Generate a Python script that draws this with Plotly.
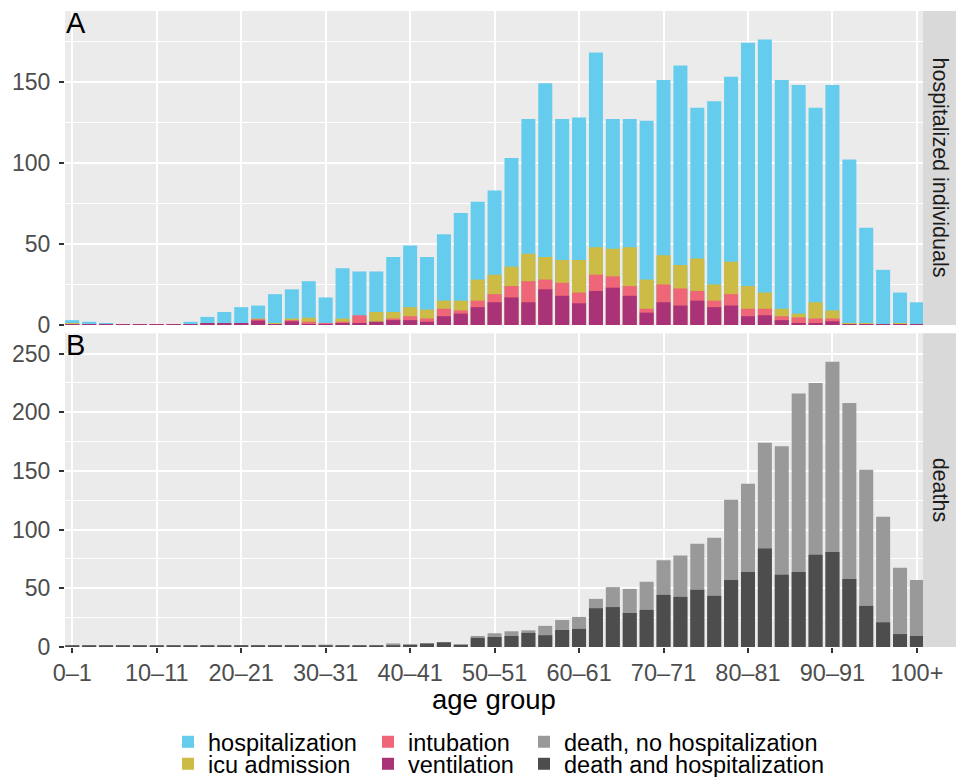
import plotly.graph_objects as go
from plotly.subplots import make_subplots

age_groups = ["0–1", "2–3", "4–5", "6–7", "8–9", "10–11", "12–13", "14–15", "16–17", "18–19",
              "20–21", "22–23", "24–25", "26–27", "28–29", "30–31", "32–33", "34–35", "36–37", "38–39",
              "40–41", "42–43", "44–45", "46–47", "48–49", "50–51", "52–53", "54–55", "56–57", "58–59",
              "60–61", "62–63", "64–65", "66–67", "68–69", "70–71", "72–73", "74–75", "76–77", "78–79",
              "80–81", "82–83", "84–85", "86–87", "88–89", "90–91", "92–93", "94–95", "96–97", "98–99",
              "100+"]
tick_groups = ["0–1", "10–11", "20–21", "30–31", "40–41", "50–51", "60–61", "70–71", "80–81", "90–91", "100+"]

# panel A: hospitalized individuals (bars overlaid, not stacked)
hospitalization = [3, 2, 1, 0.6, 0.6, 0.6, 0.6, 2, 5, 8,
                   11, 12, 19, 22, 27, 17, 35, 33, 33, 42,
                   49, 42, 56, 69, 76, 83, 103, 127, 149, 127,
                   128, 168, 127, 127, 126, 151, 160, 134, 138, 153,
                   174, 176, 151, 148, 134, 148, 102, 60, 34, 20,
                   14]
icu_admission = [1, 0.6, 0.6, 0.6, 0.6, 0.6, 0.6, 0.6, 1, 1,
                 1, 4, 1, 4, 4.5, 0.8, 4, 5, 8, 8,
                 11, 9.5, 15, 15, 28, 31, 36, 44, 42, 40,
                 40, 48, 47, 48, 28, 43, 37, 41, 25, 39,
                 24, 20, 10, 7, 14, 9, 1, 1.2, 0.6, 1.2,
                 0.6]
intubation = [0.6, 0.6, 0.6, 0.6, 0.6, 0.6, 0.6, 0.6, 1, 1,
              1, 3.5, 0.6, 3, 2, 0.8, 2, 6, 2, 4,
              5.4, 4, 10, 9, 15, 19, 24, 27, 28, 26,
              20, 31, 30, 24, 10, 25, 22.5, 21, 15, 19,
              10, 10, 5.4, 4.7, 4, 4, 0.6, 0.6, 0.6, 0.6,
              0.6]
ventilation = [0.6, 0.6, 0.6, 0.6, 0.6, 0.6, 0.6, 0.6, 1, 1,
               1, 2.7, 0.6, 2.3, 0.6, 0.6, 1, 1, 2, 3,
               3, 2, 5.4, 7, 11, 14, 17, 14, 22, 18,
               13.4, 21, 23, 18, 7.6, 14, 12, 15, 11, 12,
               5.4, 6, 3, 1, 1, 2.3, 0.6, 0.6, 0.6, 0.6,
               0.6]

# panel B: deaths (grey bar = all deaths, dark bar = deaths after hospitalization)
deaths_all = [0.8, 0.8, 0.8, 0.8, 0.8, 0.8, 0.8, 0.8, 0.8, 0.8,
              1.5, 1.5, 1.5, 1.5, 0.8, 2, 1, 0.8, 1, 3,
              2, 3, 4, 2, 9.4, 11.7, 13.4, 14.2, 18, 23,
              25.6, 41, 51, 49.5, 55.5, 74, 78, 88, 93, 125.5,
              139, 174, 171, 216, 225, 243, 208, 151, 111, 67.5,
              57]
deaths_hospitalized = [0.8, 0.8, 0.8, 0.8, 0.8, 0.8, 0.8, 0.8, 0.8, 0.8,
                       1.5, 1.5, 1.5, 1.5, 0.8, 1, 1, 0.8, 1, 1.5,
                       2, 3, 4, 2, 7.7, 8.5, 9.4, 12, 10, 14.5,
                       15.4, 33, 34, 29, 31.6, 44.4, 42.7, 48.7, 43.6, 57,
                       64, 84, 61.5, 64, 78.6, 81, 58, 35, 21, 11,
                       9.4]

font = "Liberation Sans, Arial, sans-serif"
W, H = 956, 777
ml, mr, mt, mb = 65, 33, 11, 130
pw, ph = W - ml - mr, H - mt - mb

def px_x(x):
    return (x - ml) / pw

def px_y(y):
    return (H - mb - y) / ph

top_dom = [px_y(325), 1]
bot_dom = [0, px_y(333.3)]

fig = make_subplots(rows=2, cols=1, shared_xaxes=True, vertical_spacing=0.013)

top_series = [
    ("hospitalization", hospitalization, "#66CCEE", "legend"),
    ("icu admission", icu_admission, "#CCBB44", "legend2"),
    ("intubation", intubation, "#EE6677", "legend3"),
    ("ventilation", ventilation, "#AA3377", "legend4"),
]
for name, vals, colour, leg in top_series:
    fig.add_trace(go.Bar(x=age_groups, y=vals, name=name, marker_color=colour,
                         marker_line_width=0, width=0.83, legend=leg, showlegend=True), row=1, col=1)

bottom_series = [
    ("death, no hospitalization", deaths_all, "#999999", "legend5"),
    ("death and hospitalization", deaths_hospitalized, "#4D4D4D", "legend6"),
]
for name, vals, colour, leg in bottom_series:
    fig.add_trace(go.Bar(x=age_groups, y=vals, name=name, marker_color=colour,
                         marker_line_width=0, width=0.83, legend=leg, showlegend=True), row=2, col=1)

# one small legend per entry so the 3 x 2 grid lines up like the original
leg_pos = {
    "legend": (168, 742), "legend2": (168, 764),
    "legend3": (368, 742), "legend4": (368, 764),
    "legend5": (524, 742), "legend6": (524, 764),
}
for key, (lx, ly) in leg_pos.items():
    fig.update_layout({key: dict(x=px_x(lx), y=px_y(ly), xanchor="left", yanchor="middle",
                                 bgcolor="rgba(0,0,0,0)", borderwidth=0, visible=True,
                                 font=dict(family=font, size=23.5, color="black"))})

fig.update_xaxes(range=[-0.43, 50.36], tickmode="array", tickvals=tick_groups,
                 showgrid=True, gridcolor="white", gridwidth=2.2, zeroline=False, showline=False)
fig.update_xaxes(showticklabels=False, ticks="", row=1, col=1)
fig.update_xaxes(ticks="outside", ticklen=5, tickwidth=2, tickcolor="#333333",
                 tickfont=dict(family=font, size=23.5, color="#4D4D4D"), row=2, col=1)

yaxis_style = dict(dtick=50, ticks="outside", ticklen=5, tickwidth=2, tickcolor="#333333",
                   tickfont=dict(family=font, size=23, color="#4D4D4D"), ticklabelstandoff=4,
                   showgrid=True, gridcolor="white", gridwidth=2.2, zeroline=False, showline=False,
                   minor=dict(dtick=25, showgrid=True, gridcolor="white", gridwidth=1.1, ticks=""))
fig.update_yaxes(range=[0, max(hospitalization) * 1.1], domain=top_dom, row=1, col=1, **yaxis_style)
fig.update_yaxes(range=[0, max(deaths_all) * 1.1], domain=bot_dom, row=2, col=1, **yaxis_style)

strip_x1 = 1 + mr / pw
shapes = []
annotations = []
for dom, label in [(top_dom, "hospitalized individuals"), (bot_dom, "deaths")]:
    shapes.append(dict(type="rect", xref="paper", yref="paper", x0=1, x1=strip_x1,
                       y0=dom[0], y1=dom[1], fillcolor="#D9D9D9", line_width=0, layer="below"))
    annotations.append(dict(text=label, xref="paper", yref="paper", x=(1 + strip_x1) / 2,
                            y=(dom[0] + dom[1]) / 2, xanchor="center", yanchor="middle",
                            showarrow=False, textangle=90,
                            font=dict(family=font, size=21.5, color="#1A1A1A")))
for dom, tag in [(top_dom, "A"), (bot_dom, "B")]:
    annotations.append(dict(text=tag, xref="paper", yref="paper", x=0, y=dom[1],
                            xanchor="left", yanchor="top", showarrow=False, xshift=-1, yshift=6,
                            font=dict(family=font, size=29, color="black")))
# x axis title
annotations.append(dict(text="age group", xref="paper", yref="paper", x=0.5, y=px_y(699),
                        xanchor="center", yanchor="middle", showarrow=False,
                        font=dict(family=font, size=27.5, color="black")))

fig.update_layout(
    width=W, height=H,
    margin=dict(l=ml, r=mr, t=mt, b=mb, autoexpand=False),
    barmode="overlay",
    showlegend=True,
    plot_bgcolor="#EBEBEB", paper_bgcolor="white",
    font=dict(family=font),
    shapes=shapes, annotations=annotations,
)

fig.write_html("out.html", config={"displayModeBar": False},
               post_script="document.body.style.margin = '0';")
